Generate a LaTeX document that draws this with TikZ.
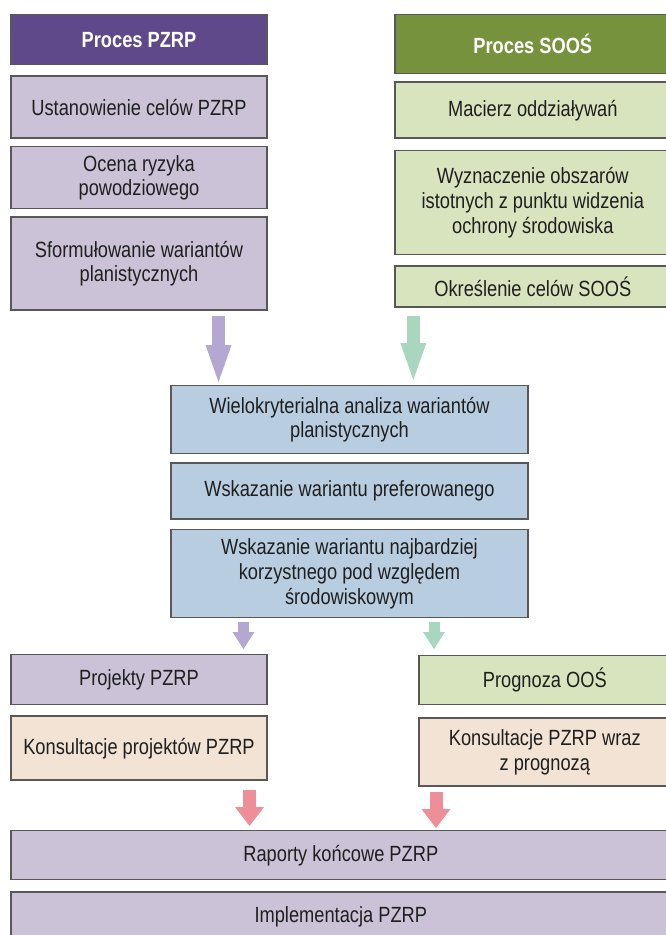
\documentclass[tikz,border=0pt]{standalone}
\usepackage{fontspec}
\setmainfont[FakeStretch=0.83]{Liberation Sans}
\usepackage{xcolor}
\usepackage{tikz}
\usetikzlibrary{positioning,calc,arrows.meta}
\definecolor{PZRPdark}{RGB}{96,73,138}
\definecolor{SOOSdark}{RGB}{118,146,60}
\definecolor{PZRPlight}{RGB}{203,194,216}
\definecolor{SOOSlight}{RGB}{215,228,189}
\definecolor{ANAblue}{RGB}{185,205,224}
\definecolor{KONSpeach}{RGB}{243,227,213}
\definecolor{ARRpurple}{RGB}{180,167,210}
\definecolor{ARRgreen}{RGB}{168,214,190}
\definecolor{ARRred}{RGB}{238,142,152}
\definecolor{BORDERgray}{RGB}{88,88,88}

\begin{document}
\begin{tikzpicture}[
        % --- ODSTĘPY ---
        node distance=5.25pt,
        % --- STYLE PROSTOKĄTÓW ---
        % Styl wspólny dla wszystkich pól
        box/.style={
            rectangle, draw=BORDERgray, line width=1.1pt,
            inner sep=2pt, align=center, text=black!88,
            font=\fontsize{16.5}{18.5}\selectfont
        },
        % Nagłówki procesów
        headP/.style={box, fill=PZRPdark, text=white,
            font=\fontsize{16.5}{18.5}\selectfont\bfseries},
        headS/.style={box, fill=SOOSdark, text=white,
            font=\fontsize{16.5}{18.5}\selectfont\bfseries},
        % Pola kolumn
        stageP/.style={box, fill=PZRPlight, minimum width=192pt},
        stageS/.style={box, fill=SOOSlight, minimum width=206.75pt},
        stageA/.style={box, fill=ANAblue, minimum width=267.75pt},
        stageK/.style={box, fill=KONSpeach},
        % --- STRZAŁKI BLOKOWE ---
        fat/.style={line width=9.75pt,
            -{Triangle[width=19.5pt,length=27.75pt,line width=0pt]}},
        thin fat/.style={line width=8.25pt,
            -{Triangle[width=16.5pt,length=12.75pt,line width=0pt]}},
        red fat/.style={line width=9.75pt, draw=ARRred,
            -{Triangle[width=21.75pt,length=14.25pt,line width=0pt]}}
    ]
        \useasboundingbox (0,0) rectangle (498.75pt,-701.25pt);

        % --- KOLUMNA LEWA: Proces PZRP ---
        \node[headP, minimum width=192pt, minimum height=37.5pt, anchor=north]
            (hp) at (104.25pt,-10.5pt) {Proces PZRP};
        \node[stageP, minimum height=46.5pt, below=7.5pt of hp] (u1) {Ustanowienie celów PZRP};
        \node[stageP, minimum height=46.5pt, below=of u1] (u2) {Ocena ryzyka\\powodziowego};
        \node[stageP, minimum height=69.75pt, below=of u2] (u3) {Sformułowanie wariantów\\planistycznych};

        % --- KOLUMNA PRAWA: Proces SOOŚ ---
        \node[headS, minimum width=206.75pt, minimum height=44.25pt, anchor=north]
            (hs) at (399.6pt,-10.5pt) {Proces SOOŚ};
        \node[stageS, minimum height=42pt, below=of hs] (s1) {Macierz oddziaływań};
        \node[stageS, minimum height=78pt, below=8.25pt of s1] (s2) {Wyznaczenie obszarów\\istotnych z punktu widzenia\\ochrony środowiska};
        \node[stageS, minimum height=30.75pt, below=7.5pt of s2] (s3) {Określenie celów SOOŚ};

        % --- ŚRODEK: analiza wariantów ---
        \node[stageA, minimum height=51pt, anchor=north]
            (m1) at (262.1pt,-288.75pt) {Wielokryterialna analiza wariantów\\planistycznych};
        \node[stageA, minimum height=42pt, below=6pt of m1] (m2) {Wskazanie wariantu preferowanego};
        \node[stageA, minimum height=66pt, below=6.75pt of m2] (m3) {Wskazanie wariantu najbardziej\\korzystnego pod względem\\środowiskowym};

        % --- DÓŁ: projekty i prognoza ---
        \node[stageP, minimum height=37.5pt, anchor=north]
            (pl1) at (104.25pt,-490.5pt) {Projekty PZRP};
        \node[stageK, minimum width=192pt, minimum height=48pt, below=7.5pt of pl1] (pl2) {Konsultacje projektów PZRP};
        \node[box, fill=SOOSlight, minimum width=188.75pt, minimum height=36.75pt, anchor=north]
            (pr1) at (408.6pt,-491.25pt) {Prognoza OOŚ};
        \node[stageK, minimum width=188.75pt, minimum height=51pt, below=9pt of pr1] (pr2) {Konsultacje PZRP wraz\\z prognozą};

        % --- RAPORTY ---
        \node[box, fill=PZRPlight, minimum width=494.75pt, minimum height=36.75pt, anchor=north]
            (r1) at (255.6pt,-622.5pt) {Raporty końcowe PZRP};
        \node[box, fill=PZRPlight, minimum width=494.75pt, minimum height=37.5pt, below=8.25pt of r1] (r2) {Implementacja PZRP};

        % --- STRZAŁKI ---
        \draw[fat, draw=ARRpurple, shorten >=2.25pt]
            ($(u3.south)+(59.65pt,-3.75pt)$) -- ($(u3.south |- m1.north)+(59.65pt,0)$);
        \draw[fat, draw=ARRgreen, shorten >=3.75pt]
            ($(s3.south)+(-89.6pt,-6pt)$) -- ($(s3.south |- m1.north)+(-89.6pt,0)$);
        \draw[thin fat, draw=ARRpurple, shorten >=3.75pt]
            ($(m3.south)+(-79.5pt,-3pt)$) -- ($(m3.south |- pl1.north)+(-79.5pt,0)$);
        \draw[thin fat, draw=ARRgreen, shorten >=4.5pt]
            ($(m3.south)+(63.4pt,-3pt)$) -- ($(m3.south |- pr1.north)+(63.4pt,0)$);
        \draw[red fat, shorten >=3pt]
            ($(pl2.south)+(82.9pt,-6.75pt)$) -- ($(pl2.south |- r1.north)+(82.9pt,0)$);
        \draw[red fat, shorten >=1.5pt]
            ($(pr2.south)+(-81.6pt,-3.75pt)$) -- ($(pr2.south |- r1.north)+(-81.6pt,0)$);

    \end{tikzpicture}
\end{document}
